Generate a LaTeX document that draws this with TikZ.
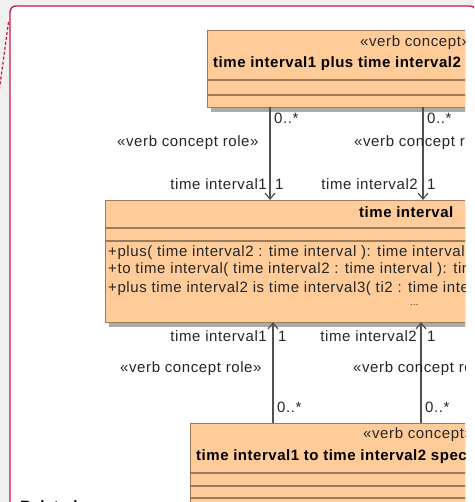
\documentclass[tikz,border=0pt]{standalone}
\usepackage{fontspec}
\usetikzlibrary{arrows.meta}
\newfontfamily\umlf[LetterSpace=4]{Liberation Sans}
\newfontfamily\umlbf[LetterSpace=3.5]{Liberation Sans}
\definecolor{peach}{HTML}{FFCC99}
\definecolor{boxline}{HTML}{9C7B5B}
\definecolor{framec}{HTML}{C8173F}
\definecolor{bgc}{HTML}{F0F0F0}
\definecolor{wirec}{HTML}{505050}
\definecolor{shadowc}{HTML}{ABABAB}
\tikzset{
  umlbox/.style={draw=boxline, fill=peach, line width=1.3pt, inner sep=0pt, anchor=north west},
  cline/.style={draw=boxline, line width=1.1pt},
  lbl/.style={font=\umlf\fontsize{15}{18}\selectfont, inner sep=0pt, text=black!85},
  ttl/.style={font=\umlbf\bfseries\fontsize{15}{18}\selectfont, inner sep=0pt, text=black},
  wire/.style={draw=wirec, line width=1.3pt, -{Straight Barb[length=6pt,width=10pt,line width=1.2pt]}},
  shadowbox/.style={fill=shadowc}
}
\begin{document}
\begin{tikzpicture}[x=1pt,y=-1pt]
\useasboundingbox (0,0) rectangle (474,502);
\fill[bgc] (0,0) rectangle (474,502);
% frame
\begin{scope}
\clip (0,0) rectangle (474,502);
\draw[framec, line width=1.3pt, fill=white, rounded corners=6pt] (10,540) -- (10,6) -- (476,6) -- (476,540);
\draw[framec, line width=1.2pt, dash pattern=on 3pt off 2pt] (8.5,22) -- (-1,92);
\end{scope}
\begin{scope}
\clip (0,0) rectangle (465,502);
% shadows
\fill[shadowbox] (211,34) rectangle (640,112);
\fill[shadowbox] (109,204) rectangle (740,327);
\fill[shadowbox] (194,427) rectangle (640,503);
% top box
\node[umlbox, minimum width=420, minimum height=77] (vc1) at (207,30) {};
\draw[cline] (207,80) -- (640,80);
\draw[cline] (207,95) -- (640,95);
\node[lbl, anchor=west] (vc1s) at (360,43) {«verb concept»};
\node[ttl, anchor=west] (vc1t) at (213,64) {time interval1 plus time interval2 is time interval3};
% time interval box
\node[umlbox, minimum width=620, minimum height=122] (ti) at (105,200) {};
\draw[cline] (105,228) -- (740,228);
\draw[cline] (105,241) -- (740,241);
\node[ttl, anchor=west] (tit) at (359,212) {time interval};
\node[lbl, anchor=west] (op1) at (108,253) {+plus( time interval2 : time interval ): time interval};
\node[lbl, anchor=west] (op2) at (108,270) {+to time interval( time interval2 : time interval ): time interval};
\node[lbl, anchor=west] (op3) at (108,289) {+plus time interval2 is time interval3( ti2 : time interval, ti3 : time interval )};
\node[lbl, anchor=west, font=\umlf\fontsize{9}{10}\selectfont] (dots) at (410,305) {...};
% bottom box
\node[umlbox, minimum width=420, minimum height=90] (vc2) at (190,423) {};
\draw[cline] (190,473) -- (640,473);
\draw[cline] (190,486) -- (640,486);
\draw[cline] (190,498) -- (640,498);
\node[lbl, anchor=west] (vc2s) at (363,435) {«verb concept»};
\node[ttl, anchor=west] (vc2t) at (196,457) {time interval1 to time interval2 specifies time interval3};
% connector end points
\coordinate (a1s) at (270,107); \coordinate (a1e) at (270,200);
\coordinate (a2s) at (423,107); \coordinate (a2e) at (423,200);
\coordinate (b1s) at (273,423); \coordinate (b1e) at (273,322);
\coordinate (b2s) at (421,423); \coordinate (b2e) at (421,322);
\draw[wire] (a1s) -- (a1e);
\draw[wire] (a2s) -- (a2e);
\draw[wire] (b1s) -- (b1e);
\draw[wire] (b2s) -- (b2e);
% top labels
\node[lbl, anchor=west] (m1) at (274,118) {0..*};
\node[lbl, anchor=west] (m2) at (427,118) {0..*};
\node[lbl, anchor=west] (r1) at (117,143) {«verb concept role»};
\node[lbl, anchor=west] (r2) at (354,143) {«verb concept role»};
\node[lbl, anchor=east] (n1) at (267,184) {time interval1};
\node[lbl, anchor=west] (o1) at (275,184) {1};
\node[lbl, anchor=east] (n2) at (418,184) {time interval2};
\node[lbl, anchor=west] (o2) at (427,184) {1};
% bottom labels
\node[lbl, anchor=east] (n3) at (267,336) {time interval1};
\node[lbl, anchor=west] (o3) at (278,336) {1};
\node[lbl, anchor=east] (n4) at (417,336) {time interval2};
\node[lbl, anchor=west] (o4) at (427,336) {1};
\node[lbl, anchor=west] (r3) at (120,369) {«verb concept role»};
\node[lbl, anchor=west] (r4) at (353,369) {«verb concept role»};
\node[lbl, anchor=west] (m3) at (277,407) {0..*};
\node[lbl, anchor=west] (m4) at (425,407) {0..*};
\end{scope}
\begin{scope}
\clip (0,0) rectangle (474,502);
\node[ttl, anchor=base west] (rel) at (20,511) {Related};
\end{scope}
\end{tikzpicture}
\end{document}
